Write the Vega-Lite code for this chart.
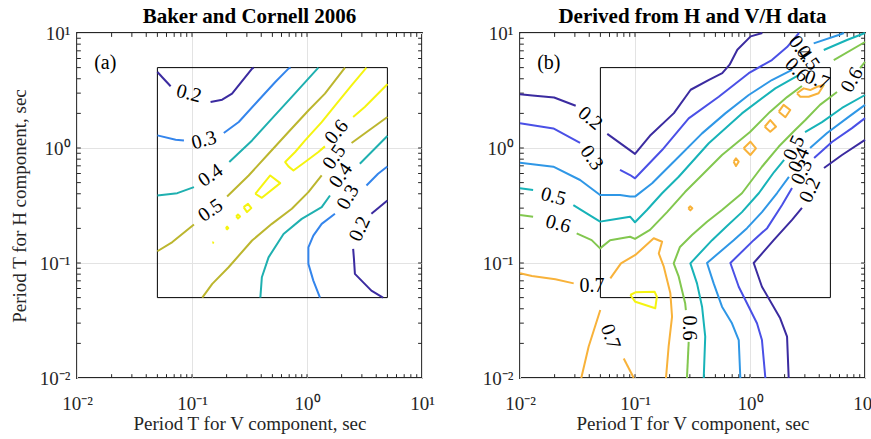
{
"$schema": "https://vega.github.io/schema/vega-lite/v6.json",
"autosize": {"type": "pad"},
"padding": {"left": 9, "top": 5, "right": 0, "bottom": 0},
"spacing": 98,
"bounds": "flush",
"config": {
 "font": "Liberation Serif",
 "view": {"stroke": "#262626", "strokeWidth": 1.8},
 "axis": {"labelFont": "Liberation Serif", "labelFontSize": 19, "labelColor": "#262626", "titleFont": "Liberation Serif", "titleFontSize": 19, "titleFontWeight": "normal", "titleColor": "#262626", "gridColor": "#e3e3e3", "gridWidth": 1, "domain": false, "ticks": false, "labelFlush": false, "labelOverlap": false},
 "title": {"font": "Liberation Serif", "fontSize": 21, "fontWeight": "bold", "color": "#000000", "baseline": "alphabetic", "offset": -3}
},
"resolve": {"scale": {"color": "independent", "x": "independent", "y": "independent"}},
"datasets": {
 "tk": [{"v":0.02},{"v":0.03},{"v":0.04},{"v":0.05},{"v":0.06},{"v":0.07},{"v":0.08},{"v":0.09},{"v":0.1},{"v":0.2},{"v":0.3},{"v":0.4},{"v":0.5},{"v":0.6},{"v":0.7},{"v":0.8},{"v":0.9},{"v":1},{"v":2},{"v":3},{"v":4},{"v":5},{"v":6},{"v":7},{"v":8},{"v":9}],
 "box": [{"x1":0.05,"x2":5,"y1":0.05,"y2":5}],
 "a": [
  {"s":"a2a","l":"0.2","x":0.05,"y":4.58},{"s":"a2a","l":"0.2","x":0.0652,"y":3.44},
  {"s":"a2b","l":"0.2","x":0.145,"y":2.51},{"s":"a2b","l":"0.2","x":0.183,"y":2.63},{"s":"a2b","l":"0.2","x":0.223,"y":2.97},{"s":"a2b","l":"0.2","x":0.333,"y":4.9},{"s":"a2b","l":"0.2","x":0.344,"y":5.0},
  {"s":"a3a","l":"0.3","x":0.05,"y":1.288},{"s":"a3a","l":"0.3","x":0.0721,"y":1.18},{"s":"a3a","l":"0.3","x":0.0851,"y":1.164},
  {"s":"a3b","l":"0.3","x":0.189,"y":1.349},{"s":"a3b","l":"0.3","x":0.255,"y":1.682},{"s":"a3b","l":"0.3","x":0.379,"y":2.6},{"s":"a3b","l":"0.3","x":0.53,"y":3.75},{"s":"a3b","l":"0.3","x":0.69,"y":4.9},{"s":"a3b","l":"0.3","x":0.72,"y":5.0},
  {"s":"a4a","l":"0.4","x":0.05,"y":0.386},{"s":"a4a","l":"0.4","x":0.0745,"y":0.405},{"s":"a4a","l":"0.4","x":0.104,"y":0.457},
  {"s":"a4b","l":"0.4","x":0.211,"y":0.755},{"s":"a4b","l":"0.4","x":0.333,"y":1.164},{"s":"a4b","l":"0.4","x":0.495,"y":1.8},{"s":"a4b","l":"0.4","x":0.738,"y":2.78},{"s":"a4b","l":"0.4","x":1.256,"y":5.0},
  {"s":"a5a","l":"0.5","x":0.05,"y":0.1265},{"s":"a5a","l":"0.5","x":0.0675,"y":0.152},{"s":"a5a","l":"0.5","x":0.104,"y":0.216},
  {"s":"a5b","l":"0.5","x":0.202,"y":0.379},{"s":"a5b","l":"0.5","x":0.311,"y":0.577},{"s":"a5b","l":"0.5","x":0.463,"y":0.891},{"s":"a5b","l":"0.5","x":0.69,"y":1.377},{"s":"a5b","l":"0.5","x":1.028,"y":2.12},{"s":"a5b","l":"0.5","x":1.432,"y":2.97},{"s":"a5b","l":"0.5","x":2.14,"y":5.0},
  {"s":"a6a","l":"0.6","x":3.29,"y":5.0},{"s":"a6a","l":"0.6","x":2.44,"y":3.51},{"s":"a6a","l":"0.6","x":1.81,"y":2.43},{"s":"a6a","l":"0.6","x":1.342,"y":1.68},{"s":"a6a","l":"0.6","x":0.962,"y":1.164},{"s":"a6a","l":"0.6","x":0.789,"y":0.923},{"s":"a6a","l":"0.6","x":0.646,"y":0.755},{"s":"a6a","l":"0.6","x":0.69,"y":0.692},{"s":"a6a","l":"0.6","x":0.762,"y":0.638},{"s":"a6a","l":"0.6","x":0.962,"y":0.755},{"s":"a6a","l":"0.6","x":1.256,"y":0.923},{"s":"a6a","l":"0.6","x":1.432,"y":1.033},
  {"s":"a6b","l":"0.6","x":2.52,"y":1.86},{"s":"a6b","l":"0.6","x":3.18,"y":2.27},{"s":"a6b","l":"0.6","x":4.9,"y":3.51},{"s":"a6b","l":"0.6","x":5.0,"y":3.6},
  {"s":"a6c","l":"0.6","x":0.355,"y":0.4},{"s":"a6c","l":"0.6","x":0.479,"y":0.577},{"s":"a6c","l":"0.6","x":0.585,"y":0.495},{"s":"a6c","l":"0.6","x":0.405,"y":0.369},{"s":"a6c","l":"0.6","x":0.355,"y":0.4},
  {"s":"a6d","l":"0.6","x":0.281,"y":0.306},{"s":"a6d","l":"0.6","x":0.307,"y":0.327},{"s":"a6d","l":"0.6","x":0.328,"y":0.3},{"s":"a6d","l":"0.6","x":0.301,"y":0.277},{"s":"a6d","l":"0.6","x":0.281,"y":0.306},
  {"s":"a6e","l":"0.6","x":0.242,"y":0.254},{"s":"a6e","l":"0.6","x":0.251,"y":0.264},{"s":"a6e","l":"0.6","x":0.262,"y":0.254},{"s":"a6e","l":"0.6","x":0.251,"y":0.244},{"s":"a6e","l":"0.6","x":0.242,"y":0.254},
  {"s":"a6f","l":"0.6","x":0.197,"y":0.201},{"s":"a6f","l":"0.6","x":0.202,"y":0.207},{"s":"a6f","l":"0.6","x":0.207,"y":0.201},{"s":"a6f","l":"0.6","x":0.202,"y":0.196},{"s":"a6f","l":"0.6","x":0.197,"y":0.201},
  {"s":"a6g","l":"0.6","x":0.151,"y":0.15},{"s":"a6g","l":"0.6","x":0.152,"y":0.151},{"s":"a6g","l":"0.6","x":0.153,"y":0.15},{"s":"a6g","l":"0.6","x":0.151,"y":0.15},
  {"s":"a5c","l":"0.5","x":0.1228,"y":0.05},{"s":"a5c","l":"0.5","x":0.15,"y":0.0658},{"s":"a5c","l":"0.5","x":0.208,"y":0.0918},{"s":"a5c","l":"0.5","x":0.333,"y":0.157},{"s":"a5c","l":"0.5","x":0.495,"y":0.219},{"s":"a5c","l":"0.5","x":0.738,"y":0.296},{"s":"a5c","l":"0.5","x":1.028,"y":0.413},{"s":"a5c","l":"0.5","x":1.342,"y":0.577},
  {"s":"a5d","l":"0.5","x":2.44,"y":1.104},{"s":"a5d","l":"0.5","x":5.0,"y":1.86},
  {"s":"a4c","l":"0.4","x":0.393,"y":0.05},{"s":"a4c","l":"0.4","x":0.405,"y":0.0752},{"s":"a4c","l":"0.4","x":0.463,"y":0.112},{"s":"a4c","l":"0.4","x":0.625,"y":0.179},{"s":"a4c","l":"0.4","x":0.9,"y":0.242},{"s":"a4c","l":"0.4","x":1.342,"y":0.306},{"s":"a4c","l":"0.4","x":1.585,"y":0.386},
  {"s":"a4d","l":"0.4","x":2.88,"y":0.73},{"s":"a4d","l":"0.4","x":4.9,"y":1.245},{"s":"a4d","l":"0.4","x":5.0,"y":1.27},
  {"s":"a3c","l":"0.3","x":1.297,"y":0.05},{"s":"a3c","l":"0.3","x":1.135,"y":0.0703},{"s":"a3c","l":"0.3","x":1.028,"y":0.0982},{"s":"a3c","l":"0.3","x":1.028,"y":0.137},{"s":"a3c","l":"0.3","x":1.135,"y":0.173},{"s":"a3c","l":"0.3","x":1.342,"y":0.219},{"s":"a3c","l":"0.3","x":1.75,"y":0.268},
  {"s":"a3d","l":"0.3","x":3.29,"y":0.472},{"s":"a3d","l":"0.3","x":4.15,"y":0.597},{"s":"a3d","l":"0.3","x":5.0,"y":0.69},
  {"s":"a2c","l":"0.2","x":4.58,"y":0.05},{"s":"a2c","l":"0.2","x":3.63,"y":0.0575},{"s":"a2c","l":"0.2","x":2.98,"y":0.0703},{"s":"a2c","l":"0.2","x":2.61,"y":0.0804},{"s":"a2c","l":"0.2","x":2.56,"y":0.1086},{"s":"a2c","l":"0.2","x":2.52,"y":0.1327},
  {"s":"a2d","l":"0.2","x":3.63,"y":0.268},{"s":"a2d","l":"0.2","x":5.0,"y":0.35}
 ],
 "la": [
  {"t":"0.2","x":0.094,"y":2.97,"r":15},{"t":"0.3","x":0.127,"y":1.164,"r":-15},{"t":"0.4","x":0.145,"y":0.577,"r":-35},{"t":"0.5","x":0.145,"y":0.286,"r":-35},
  {"t":"0.6","x":1.81,"y":1.377,"r":-50},{"t":"0.5","x":1.73,"y":0.834,"r":-55},{"t":"0.4","x":1.97,"y":0.577,"r":-55},{"t":"0.3","x":2.28,"y":0.374,"r":-60},{"t":"0.2","x":2.88,"y":0.198,"r":-65},
  {"t":"(a)","x":0.0176,"y":5.45,"r":0}
 ],
 "b": [
  {"s":"b2a","l":"0.2","x":0.01,"y":2.94},{"s":"b2a","l":"0.2","x":0.0128,"y":2.86},{"s":"b2a","l":"0.2","x":0.0198,"y":2.75},{"s":"b2a","l":"0.2","x":0.0305,"y":2.33},
  {"s":"b2b","l":"0.2","x":0.0574,"y":1.327},{"s":"b2b","l":"0.2","x":0.1,"y":0.889},{"s":"b2b","l":"0.2","x":0.137,"y":1.3},{"s":"b2b","l":"0.2","x":0.218,"y":2.01},{"s":"b2b","l":"0.2","x":0.305,"y":3.21},{"s":"b2b","l":"0.2","x":0.44,"y":3.92},{"s":"b2b","l":"0.2","x":0.574,"y":4.48},{"s":"b2b","l":"0.2","x":0.665,"y":5.3},{"s":"b2b","l":"0.2","x":0.776,"y":7.16},{"s":"b2b","l":"0.2","x":1.014,"y":9.35},{"s":"b2b","l":"0.2","x":1.28,"y":10},
  {"s":"b3a","l":"0.3","x":0.01,"y":1.64},{"s":"b3a","l":"0.3","x":0.0195,"y":1.48},{"s":"b3a","l":"0.3","x":0.0333,"y":1.11},
  {"s":"b3b","l":"0.3","x":0.0741,"y":0.644},{"s":"b3b","l":"0.3","x":0.0906,"y":0.582},{"s":"b3b","l":"0.3","x":0.1,"y":0.545},{"s":"b3b","l":"0.3","x":0.172,"y":0.96},{"s":"b3b","l":"0.3","x":0.293,"y":1.81},{"s":"b3b","l":"0.3","x":0.535,"y":2.79},{"s":"b3b","l":"0.3","x":0.975,"y":4.47},{"s":"b3b","l":"0.3","x":1.55,"y":5.82},{"s":"b3b","l":"0.3","x":2.1,"y":7.55},{"s":"b3b","l":"0.3","x":2.67,"y":10},
  {"s":"b4a","l":"0.4","x":0.01,"y":0.745},{"s":"b4a","l":"0.4","x":0.0195,"y":0.688},{"s":"b4a","l":"0.4","x":0.0333,"y":0.527},{"s":"b4a","l":"0.4","x":0.0497,"y":0.39},{"s":"b4a","l":"0.4","x":0.0741,"y":0.39},{"s":"b4a","l":"0.4","x":0.0906,"y":0.378},{"s":"b4a","l":"0.4","x":0.1,"y":0.378},{"s":"b4a","l":"0.4","x":0.141,"y":0.493},{"s":"b4a","l":"0.4","x":0.24,"y":0.84},{"s":"b4a","l":"0.4","x":0.383,"y":1.34},{"s":"b4a","l":"0.4","x":0.61,"y":2.0},{"s":"b4a","l":"0.4","x":0.975,"y":2.89},{"s":"b4a","l":"0.4","x":1.55,"y":3.9},{"s":"b4a","l":"0.4","x":2.32,"y":4.77},
  {"s":"b4b","l":"0.4","x":3.58,"y":8.13},{"s":"b4b","l":"0.4","x":5.9,"y":9.6},{"s":"b4b","l":"0.4","x":6.56,"y":10},
  {"s":"b5a","l":"0.5","x":0.01,"y":0.446},{"s":"b5a","l":"0.5","x":0.013,"y":0.431},
  {"s":"b5b","l":"0.5","x":0.0291,"y":0.319},{"s":"b5b","l":"0.5","x":0.038,"y":0.27},{"s":"b5b","l":"0.5","x":0.0497,"y":0.229},{"s":"b5b","l":"0.5","x":0.0607,"y":0.237},{"s":"b5b","l":"0.5","x":0.0906,"y":0.253},{"s":"b5b","l":"0.5","x":0.1,"y":0.226},{"s":"b5b","l":"0.5","x":0.127,"y":0.289},{"s":"b5b","l":"0.5","x":0.172,"y":0.404},{"s":"b5b","l":"0.5","x":0.24,"y":0.562},{"s":"b5b","l":"0.5","x":0.438,"y":1.1},{"s":"b5b","l":"0.5","x":0.851,"y":2.0},{"s":"b5b","l":"0.5","x":1.66,"y":3.3},{"s":"b5b","l":"0.5","x":2.65,"y":4.31},
  {"s":"b5c","l":"0.5","x":4.38,"y":7.11},{"s":"b5c","l":"0.5","x":6.97,"y":8.69},{"s":"b5c","l":"0.5","x":10,"y":10},
  {"s":"b6a","l":"0.6","x":0.01,"y":0.261},{"s":"b6a","l":"0.6","x":0.013,"y":0.253},
  {"s":"b6b","l":"0.6","x":0.0311,"y":0.181},{"s":"b6b","l":"0.6","x":0.042,"y":0.158},{"s":"b6b","l":"0.6","x":0.0497,"y":0.134},{"s":"b6b","l":"0.6","x":0.0607,"y":0.158},{"s":"b6b","l":"0.6","x":0.0906,"y":0.169},{"s":"b6b","l":"0.6","x":0.1,"y":0.162},{"s":"b6b","l":"0.6","x":0.135,"y":0.194},{"s":"b6b","l":"0.6","x":0.19,"y":0.277},{"s":"b6b","l":"0.6","x":0.272,"y":0.414},{"s":"b6b","l":"0.6","x":0.383,"y":0.582},{"s":"b6b","l":"0.6","x":0.571,"y":0.869},{"s":"b6b","l":"0.6","x":1.0,"y":1.377},{"s":"b6b","l":"0.6","x":1.49,"y":2.06},{"s":"b6b","l":"0.6","x":2.1,"y":2.77},{"s":"b6b","l":"0.6","x":2.83,"y":3.46},
  {"s":"b6c","l":"0.6","x":5.35,"y":5.82},{"s":"b6c","l":"0.6","x":10,"y":8.35},
  {"s":"b7a","l":"0.7","x":0.01,"y":0.0813},{"s":"b7a","l":"0.7","x":0.0127,"y":0.0771},{"s":"b7a","l":"0.7","x":0.0203,"y":0.0721},{"s":"b7a","l":"0.7","x":0.0293,"y":0.0665},
  {"s":"b7b","l":"0.7","x":0.061,"y":0.0736},{"s":"b7b","l":"0.7","x":0.0755,"y":0.0993},{"s":"b7b","l":"0.7","x":0.1007,"y":0.1175},{"s":"b7b","l":"0.7","x":0.1455,"y":0.164},{"s":"b7b","l":"0.7","x":0.172,"y":0.153},{"s":"b7b","l":"0.7","x":0.161,"y":0.121},{"s":"b7b","l":"0.7","x":0.178,"y":0.0929},{"s":"b7b","l":"0.7","x":0.203,"y":0.0546},{"s":"b7b","l":"0.7","x":0.21,"y":0.0341},{"s":"b7b","l":"0.7","x":0.196,"y":0.0187},{"s":"b7b","l":"0.7","x":0.186,"y":0.01},
  {"s":"b7c","l":"0.7","x":0.0341,"y":0.01},{"s":"b7c","l":"0.7","x":0.0395,"y":0.0187},{"s":"b7c","l":"0.7","x":0.0499,"y":0.039},
  {"s":"b7d","l":"0.7","x":0.0798,"y":0.0148},{"s":"b7d","l":"0.7","x":0.0976,"y":0.01},
  {"s":"b8","l":"0.8","x":0.091,"y":0.0527},{"s":"b8","l":"0.8","x":0.1007,"y":0.0556},{"s":"b8","l":"0.8","x":0.148,"y":0.0562},{"s":"b8","l":"0.8","x":0.155,"y":0.0509},{"s":"b8","l":"0.8","x":0.15,"y":0.0404},{"s":"b8","l":"0.8","x":0.1007,"y":0.046},{"s":"b8","l":"0.8","x":0.091,"y":0.0527},
  {"s":"bd1","l":"0.7","x":0.881,"y":0.994},{"s":"bd1","l":"0.7","x":1.007,"y":1.135},{"s":"bd1","l":"0.7","x":1.127,"y":0.994},{"s":"bd1","l":"0.7","x":1.007,"y":0.869},{"s":"bd1","l":"0.7","x":0.881,"y":0.994},
  {"s":"bd2","l":"0.7","x":1.343,"y":1.53},{"s":"bd2","l":"0.7","x":1.5,"y":1.75},{"s":"bd2","l":"0.7","x":1.683,"y":1.53},{"s":"bd2","l":"0.7","x":1.5,"y":1.387},{"s":"bd2","l":"0.7","x":1.343,"y":1.53},
  {"s":"bd3","l":"0.7","x":1.78,"y":2.07},{"s":"bd3","l":"0.7","x":1.96,"y":2.37},{"s":"bd3","l":"0.7","x":2.24,"y":2.14},{"s":"bd3","l":"0.7","x":2.03,"y":1.85},{"s":"bd3","l":"0.7","x":1.78,"y":2.07},
  {"s":"bd4","l":"0.7","x":2.56,"y":2.99},{"s":"bd4","l":"0.7","x":2.93,"y":3.3},{"s":"bd4","l":"0.7","x":3.34,"y":3.19},{"s":"bd4","l":"0.7","x":3.83,"y":3.41},{"s":"bd4","l":"0.7","x":4.38,"y":3.53},{"s":"bd4","l":"0.7","x":3.95,"y":2.99},{"s":"bd4","l":"0.7","x":3.24,"y":2.79},{"s":"bd4","l":"0.7","x":2.74,"y":2.79},{"s":"bd4","l":"0.7","x":2.56,"y":2.99},
  {"s":"bd5","l":"0.7","x":0.721,"y":0.76},{"s":"bd5","l":"0.7","x":0.755,"y":0.813},{"s":"bd5","l":"0.7","x":0.797,"y":0.76},{"s":"bd5","l":"0.7","x":0.755,"y":0.697},{"s":"bd5","l":"0.7","x":0.721,"y":0.76},
  {"s":"bd6","l":"0.7","x":0.291,"y":0.299},{"s":"bd6","l":"0.7","x":0.303,"y":0.311},{"s":"bd6","l":"0.7","x":0.315,"y":0.299},{"s":"bd6","l":"0.7","x":0.303,"y":0.287},{"s":"bd6","l":"0.7","x":0.291,"y":0.299},
  {"s":"b6d","l":"0.6","x":0.283,"y":0.01},{"s":"b6d","l":"0.6","x":0.293,"y":0.0206},
  {"s":"b6e","l":"0.6","x":0.277,"y":0.039},{"s":"b6e","l":"0.6","x":0.273,"y":0.0447},{"s":"b6e","l":"0.6","x":0.24,"y":0.076},{"s":"b6e","l":"0.6","x":0.217,"y":0.0993},{"s":"b6e","l":"0.6","x":0.246,"y":0.138},{"s":"b6e","l":"0.6","x":0.313,"y":0.175},{"s":"b6e","l":"0.6","x":0.423,"y":0.228},{"s":"b6e","l":"0.6","x":0.571,"y":0.289},{"s":"b6e","l":"0.6","x":0.851,"y":0.404},{"s":"b6e","l":"0.6","x":1.27,"y":0.687},{"s":"b6e","l":"0.6","x":1.78,"y":1.03},{"s":"b6e","l":"0.6","x":2.48,"y":1.44},{"s":"b6e","l":"0.6","x":3.03,"y":1.75},{"s":"b6e","l":"0.6","x":4.06,"y":2.37},{"s":"b6e","l":"0.6","x":5.71,"y":3.07},
  {"s":"b6f","l":"0.6","x":9.05,"y":4.96},{"s":"b6f","l":"0.6","x":10,"y":5.6},
  {"s":"b5d","l":"0.5","x":0.396,"y":0.01},{"s":"b5d","l":"0.5","x":0.408,"y":0.0229},{"s":"b5d","l":"0.5","x":0.383,"y":0.0417},{"s":"b5d","l":"0.5","x":0.346,"y":0.0665},{"s":"b5d","l":"0.5","x":0.303,"y":0.0993},{"s":"b5d","l":"0.5","x":0.468,"y":0.158},{"s":"b5d","l":"0.5","x":0.631,"y":0.21},{"s":"b5d","l":"0.5","x":0.851,"y":0.277},{"s":"b5d","l":"0.5","x":1.197,"y":0.406},{"s":"b5d","l":"0.5","x":1.62,"y":0.618},{"s":"b5d","l":"0.5","x":1.98,"y":0.787},
  {"s":"b5e","l":"0.5","x":3.01,"y":1.377},{"s":"b5e","l":"0.5","x":4.23,"y":1.68},{"s":"b5e","l":"0.5","x":6.31,"y":2.23},{"s":"b5e","l":"0.5","x":10,"y":2.89},
  {"s":"b4c","l":"0.4","x":0.824,"y":0.01},{"s":"b4c","l":"0.4","x":0.798,"y":0.0214},{"s":"b4c","l":"0.4","x":0.697,"y":0.0299},{"s":"b4c","l":"0.4","x":0.571,"y":0.0417},{"s":"b4c","l":"0.4","x":0.483,"y":0.0665},{"s":"b4c","l":"0.4","x":0.423,"y":0.1},{"s":"b4c","l":"0.4","x":0.721,"y":0.158},{"s":"b4c","l":"0.4","x":0.942,"y":0.201},{"s":"b4c","l":"0.4","x":1.27,"y":0.277},{"s":"b4c","l":"0.4","x":1.72,"y":0.406},{"s":"b4c","l":"0.4","x":2.18,"y":0.56},
  {"s":"b4d","l":"0.4","x":3.33,"y":1.0},{"s":"b4d","l":"0.4","x":4.68,"y":1.35},{"s":"b4d","l":"0.4","x":6.97,"y":1.82},{"s":"b4d","l":"0.4","x":10,"y":2.37},
  {"s":"b3c","l":"0.3","x":1.36,"y":0.01},{"s":"b3c","l":"0.3","x":1.27,"y":0.0214},{"s":"b3c","l":"0.3","x":1.15,"y":0.0299},{"s":"b3c","l":"0.3","x":0.975,"y":0.0417},{"s":"b3c","l":"0.3","x":0.798,"y":0.0622},{"s":"b3c","l":"0.3","x":0.675,"y":0.1},{"s":"b3c","l":"0.3","x":1.077,"y":0.158},{"s":"b3c","l":"0.3","x":1.41,"y":0.201},{"s":"b3c","l":"0.3","x":1.9,"y":0.319},{"s":"b3c","l":"0.3","x":2.32,"y":0.449},
  {"s":"b3d","l":"0.3","x":3.61,"y":0.819},{"s":"b3d","l":"0.3","x":5.16,"y":1.128},{"s":"b3d","l":"0.3","x":7.71,"y":1.49},{"s":"b3d","l":"0.3","x":10,"y":1.82},
  {"s":"b2c","l":"0.2","x":2.17,"y":0.01},{"s":"b2c","l":"0.2","x":2.1,"y":0.0229},{"s":"b2c","l":"0.2","x":1.83,"y":0.033},{"s":"b2c","l":"0.2","x":1.27,"y":0.0622},{"s":"b2c","l":"0.2","x":1.077,"y":0.1},{"s":"b2c","l":"0.2","x":1.607,"y":0.158},{"s":"b2c","l":"0.2","x":2.32,"y":0.237},{"s":"b2c","l":"0.2","x":2.83,"y":0.301},
  {"s":"b2d","l":"0.2","x":4.4,"y":0.67},{"s":"b2d","l":"0.2","x":6.31,"y":0.869},{"s":"b2d","l":"0.2","x":10,"y":1.175}
 ],
 "lb": [
  {"t":"0.2","x":0.0407,"y":1.81,"r":40},{"t":"0.3","x":0.042,"y":0.82,"r":55},{"t":"0.5","x":0.0195,"y":0.378,"r":15},{"t":"0.6","x":0.0215,"y":0.218,"r":15},
  {"t":"0.7","x":0.0423,"y":0.0631,"r":0},{"t":"0.7","x":0.061,"y":0.0229,"r":70},{"t":"0.6","x":0.293,"y":0.0272,"r":90},
  {"t":"0.5","x":2.42,"y":1.0,"r":-65},{"t":"0.4","x":2.67,"y":0.787,"r":-65},{"t":"0.3","x":2.83,"y":0.618,"r":-65},{"t":"0.2","x":3.33,"y":0.431,"r":-65},
  {"t":"0.6","x":7.71,"y":3.9,"r":-60},{"t":"0.4","x":2.72,"y":7.41,"r":55},{"t":"0.5","x":3.19,"y":6.06,"r":55},{"t":"0.6","x":2.56,"y":4.77,"r":45},{"t":"0.7","x":3.83,"y":3.9,"r":20},
  {"t":"(b)","x":0.0178,"y":5.45,"r":0}
 ]
},
"hconcat": [
 {
  "width": 345, "height": 345,
  "title": {"text": "Baker and Cornell 2006"},
  "layer": [
   {"data": {"name": "tk"}, "mark": {"type": "rule", "color": "#262626", "strokeWidth": 1}, "encoding": {"x": {"field": "v", "type": "quantitative", "scale": {"type": "log", "domain": [0.01, 10]}, "axis": {"values": [0.01, 0.1, 1, 10], "grid": true, "labelExpr": "datum.value < 0.05 ? '10⁻²' : datum.value < 0.5 ? '10⁻¹' : datum.value < 5 ? '10⁰' : '10¹'", "labelBaseline": "alphabetic", "labelPadding": 31, "title": "Period T for V component, sec", "titleBaseline": "alphabetic", "titleY": 51}}, "y": {"datum": 0.01, "type": "quantitative", "scale": {"type": "log", "domain": [0.01, 10]}, "axis": {"values": [0.01, 0.1, 1, 10], "grid": true, "labelExpr": "datum.value < 0.05 ? '10⁻²' : datum.value < 0.5 ? '10⁻¹' : datum.value < 5 ? '10⁰' : '10¹'", "labelBaseline": "middle", "labelPadding": 7, "title": "Period T for H component, sec", "titleX": -52, "titleBaseline": "alphabetic"}}, "y2": {"datum": 0.0108}}},
   {"data": {"name": "tk"}, "mark": {"type": "rule", "color": "#262626", "strokeWidth": 1}, "encoding": {"x": {"field": "v", "type": "quantitative"}, "y": {"datum": 10, "type": "quantitative"}, "y2": {"datum": 9.25}}},
   {"data": {"name": "tk"}, "mark": {"type": "rule", "color": "#262626", "strokeWidth": 1}, "encoding": {"y": {"field": "v", "type": "quantitative"}, "x": {"datum": 0.01, "type": "quantitative"}, "x2": {"datum": 0.0108}}},
   {"data": {"name": "tk"}, "mark": {"type": "rule", "color": "#262626", "strokeWidth": 1}, "encoding": {"y": {"field": "v", "type": "quantitative"}, "x": {"datum": 10, "type": "quantitative"}, "x2": {"datum": 9.25}}},
   {"data": {"name": "box"}, "mark": {"type": "rect", "fill": null, "stroke": "#000000", "strokeWidth": 1}, "encoding": {"x": {"field": "x1", "type": "quantitative"}, "x2": {"field": "x2"}, "y": {"field": "y1", "type": "quantitative"}, "y2": {"field": "y2"}}},
   {"data": {"name": "a"}, "mark": {"type": "line", "strokeWidth": 2, "strokeJoin": "round"}, "encoding": {"x": {"field": "x", "type": "quantitative"}, "y": {"field": "y", "type": "quantitative"}, "detail": {"field": "s"}, "order": {"value": null}, "color": {"field": "l", "type": "nominal", "scale": {"domain": ["0.2", "0.3", "0.4", "0.5", "0.6"], "range": ["#3b2ba0", "#3485ec", "#1fb0b0", "#bcb62e", "#f5f410"]}, "legend": null}}},
   {"data": {"name": "la"}, "mark": {"type": "text", "font": "Liberation Serif", "fontSize": 20, "color": "#000000", "align": "center", "baseline": "middle"}, "encoding": {"x": {"field": "x", "type": "quantitative"}, "y": {"field": "y", "type": "quantitative"}, "text": {"field": "t"}, "angle": {"field": "r", "type": "quantitative", "scale": null}}}
  ]
 },
 {
  "width": 345, "height": 345,
  "title": {"text": "Derived from H and V/H data"},
  "layer": [
   {"data": {"name": "tk"}, "mark": {"type": "rule", "color": "#262626", "strokeWidth": 1}, "encoding": {"x": {"field": "v", "type": "quantitative", "scale": {"type": "log", "domain": [0.01, 10]}, "axis": {"values": [0.01, 0.1, 1, 10], "grid": true, "labelExpr": "datum.value < 0.05 ? '10⁻²' : datum.value < 0.5 ? '10⁻¹' : datum.value < 5 ? '10⁰' : '10¹'", "labelBaseline": "alphabetic", "labelPadding": 31, "title": "Period T for V component, sec", "titleBaseline": "alphabetic", "titleY": 51}}, "y": {"datum": 0.01, "type": "quantitative", "scale": {"type": "log", "domain": [0.01, 10]}, "axis": {"values": [0.01, 0.1, 1, 10], "grid": true, "labelExpr": "datum.value < 0.05 ? '10⁻²' : datum.value < 0.5 ? '10⁻¹' : datum.value < 5 ? '10⁰' : '10¹'", "labelBaseline": "middle", "labelPadding": 7, "title": null}}, "y2": {"datum": 0.0108}}},
   {"data": {"name": "tk"}, "mark": {"type": "rule", "color": "#262626", "strokeWidth": 1}, "encoding": {"x": {"field": "v", "type": "quantitative"}, "y": {"datum": 10, "type": "quantitative"}, "y2": {"datum": 9.25}}},
   {"data": {"name": "tk"}, "mark": {"type": "rule", "color": "#262626", "strokeWidth": 1}, "encoding": {"y": {"field": "v", "type": "quantitative"}, "x": {"datum": 0.01, "type": "quantitative"}, "x2": {"datum": 0.0108}}},
   {"data": {"name": "tk"}, "mark": {"type": "rule", "color": "#262626", "strokeWidth": 1}, "encoding": {"y": {"field": "v", "type": "quantitative"}, "x": {"datum": 10, "type": "quantitative"}, "x2": {"datum": 9.25}}},
   {"data": {"name": "box"}, "mark": {"type": "rect", "fill": null, "stroke": "#000000", "strokeWidth": 1}, "encoding": {"x": {"field": "x1", "type": "quantitative"}, "x2": {"field": "x2"}, "y": {"field": "y1", "type": "quantitative"}, "y2": {"field": "y2"}}},
   {"data": {"name": "b"}, "mark": {"type": "line", "strokeWidth": 2, "strokeJoin": "round"}, "encoding": {"x": {"field": "x", "type": "quantitative"}, "y": {"field": "y", "type": "quantitative"}, "detail": {"field": "s"}, "order": {"value": null}, "color": {"field": "l", "type": "nominal", "scale": {"domain": ["0.2", "0.3", "0.4", "0.5", "0.6", "0.7", "0.8"], "range": ["#3b2ba0", "#4a50e6", "#2f97e6", "#17b3b8", "#82c74f", "#f8b23a", "#f5f410"]}, "legend": null}}},
   {"data": {"name": "lb"}, "mark": {"type": "text", "font": "Liberation Serif", "fontSize": 20, "color": "#000000", "align": "center", "baseline": "middle"}, "encoding": {"x": {"field": "x", "type": "quantitative"}, "y": {"field": "y", "type": "quantitative"}, "text": {"field": "t"}, "angle": {"field": "r", "type": "quantitative", "scale": null}}}
  ]
 }
]
}
